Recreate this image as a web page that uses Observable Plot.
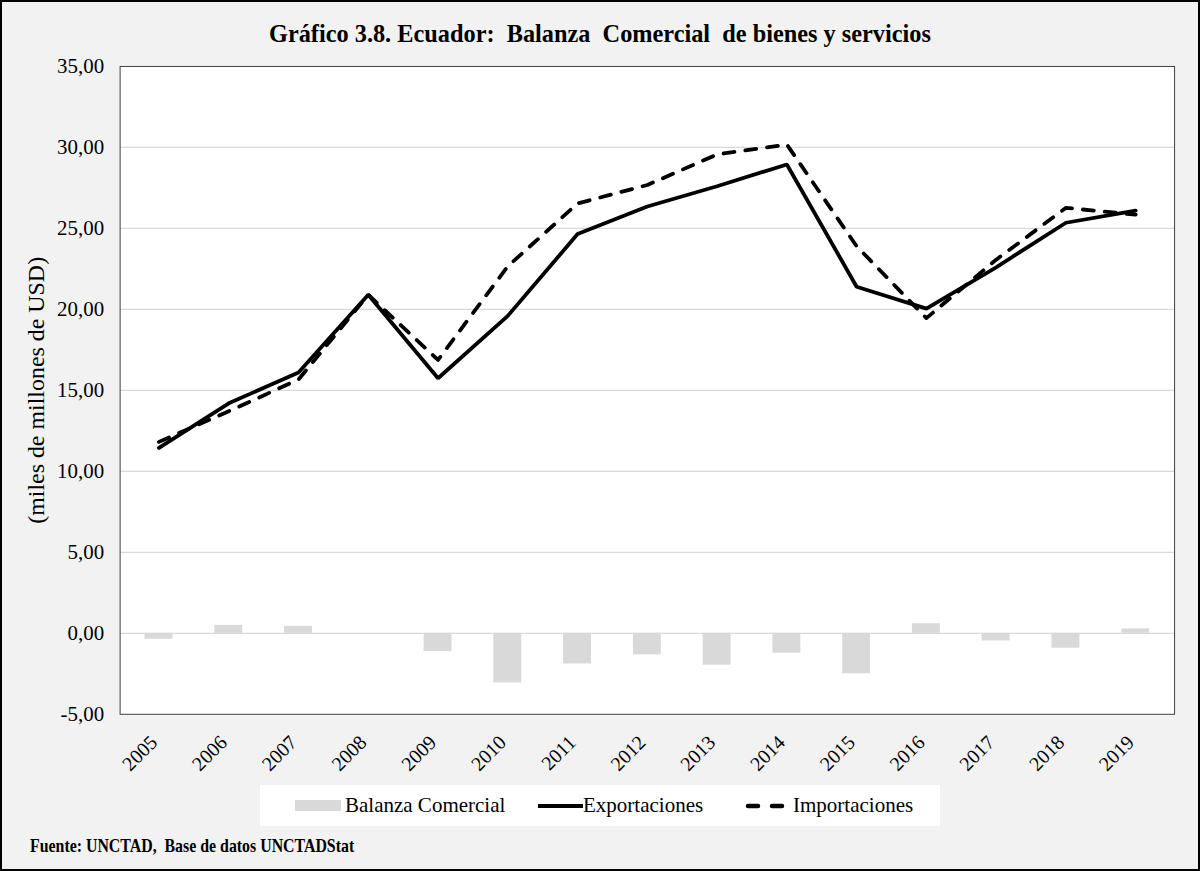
<!DOCTYPE html>
<html><head><meta charset="utf-8">
<script src="https://cdn.jsdelivr.net/npm/d3@7"></script>
<script src="https://cdn.jsdelivr.net/npm/@observablehq/plot@0.6"></script>
<style>
body{margin:0;background:#fff;}
#wrap{position:relative;width:1200px;height:871px;background:#f2f2f2;border:2px solid #000;box-sizing:border-box;font-family:"Liberation Serif","Times New Roman",serif;overflow:hidden;color:#000}
#title{height:52px;display:flex;justify-content:center;align-items:flex-end;}
#title span{display:inline-block;font-weight:bold;font-size:26px;transform:scaleX(0.935);transform-origin:center;white-space:nowrap;line-height:30px;padding-bottom:5px;}
#chart svg{display:block;}
#legend{position:absolute;left:258px;top:783px;width:680px;height:41px;background:#fff;font-size:21px;}
#legend .item{display:flex;align-items:center;position:absolute;top:0;height:41px;white-space:nowrap;}
#legend .sw{display:inline-block;width:46px;height:11px;background:#d9d9d9;margin-right:4px;}
#footer{position:absolute;left:28px;top:833px;font-weight:bold;font-size:19px;transform:scaleX(0.835);transform-origin:left center;white-space:nowrap;}
</style></head>
<body>
<div id="wrap">
  <div id="title"><span>Gráfico 3.8. Ecuador:&nbsp; Balanza&nbsp; Comercial&nbsp; de bienes y servicios</span></div>
  <div id="chart"></div>
  <div id="legend">
    <span class="item" style="left:35px"><span class="sw"></span>Balanza Comercial</span>
    <span class="item" style="left:277px"><svg width="46" height="10"><line x1="1" y1="5" x2="46" y2="5" stroke="#000" stroke-width="4"/></svg>Exportaciones</span>
    <span class="item" style="left:485px"><svg width="48" height="10"><line x1="3" y1="5" x2="45" y2="5" stroke="#000" stroke-width="4.5" stroke-linecap="round" stroke-dasharray="10,14"/></svg>Importaciones</span>
  </div>
  <div id="footer">Fuente: UNCTAD,&nbsp; Base de datos UNCTADStat</div>
</div>
<script>
const years = ["2005","2006","2007","2008","2009","2010","2011","2012","2013","2014","2015","2016","2017","2018","2019"];
const exportaciones = [11.45, 14.2, 16.1, 20.9, 15.75, 19.6, 24.65, 26.35, 27.6, 28.95, 21.4, 20.05, 22.6, 25.35, 26.1];
const importaciones = [11.82, 13.71, 15.67, 20.9, 16.88, 22.66, 26.54, 27.68, 29.57, 30.18, 23.9, 19.46, 23.07, 26.27, 25.85];
const balanza = [-0.37, 0.49, 0.43, 0.0, -1.13, -3.06, -1.89, -1.33, -1.97, -1.23, -2.5, 0.59, -0.47, -0.92, 0.27];
const yTicks = [-5, 0, 5, 10, 15, 20, 25, 30, 35];
const gridTicks = [0, 5, 10, 15, 20, 25, 30];

const rows = years.map((y, i) => ({year: y, exp: exportaciones[i], imp: importaciones[i], bal: balanza[i]}));
const loc = d3.formatLocale({decimal: ",", thousands: ".", grouping: [3], currency: ["$", ""], minus: "-"});
const fmt = loc.format(".2f");

const chart = Plot.plot({
  width: 1200, height: 722,
  marginTop: 12, marginLeft: 118, marginRight: 24, marginBottom: 60,
  style: {fontFamily: "Liberation Serif, Times New Roman, serif", fontSize: "21px", color: "#000", background: "transparent", overflow: "visible"},
  x: {domain: years, paddingInner: 0.6, paddingOuter: 0.3, label: null},
  y: {domain: [-5, 35], label: null},
  marks: [
    Plot.frame({fill: "white", stroke: null}),
    Plot.ruleY(gridTicks, {stroke: "#d9d9d9", strokeWidth: 1.2}),
    Plot.barY(rows, {x: "year", y: "bal", fill: "#d9d9d9"}),
    Plot.lineY(rows, {x: "year", y: "exp", stroke: "#000", strokeWidth: 3.8, strokeLinejoin: "miter"}),
    Plot.lineY(rows, {x: "year", y: "imp", stroke: "#000", strokeWidth: 3.8, strokeDasharray: "11,11", strokeLinecap: "round"}),
    Plot.frame({stroke: "#404040", strokeWidth: 1}),
    Plot.axisY({ticks: yTicks, tickFormat: fmt, tickSize: 0, tickPadding: 16, fontSize: 21, label: "(miles de millones de USD)", labelArrow: "none", labelAnchor: "center", labelOffset: 93}),
    Plot.axisX({tickRotate: -45, tickSize: 0, tickPadding: 17, dx: -5, dy: 8, fontSize: 20, label: null})
  ]
});
document.getElementById("chart").appendChild(chart);
chart.querySelectorAll("g[aria-label='y-axis label'] text").forEach(t => t.setAttribute("font-size", "24"));
</script>
</body></html>
